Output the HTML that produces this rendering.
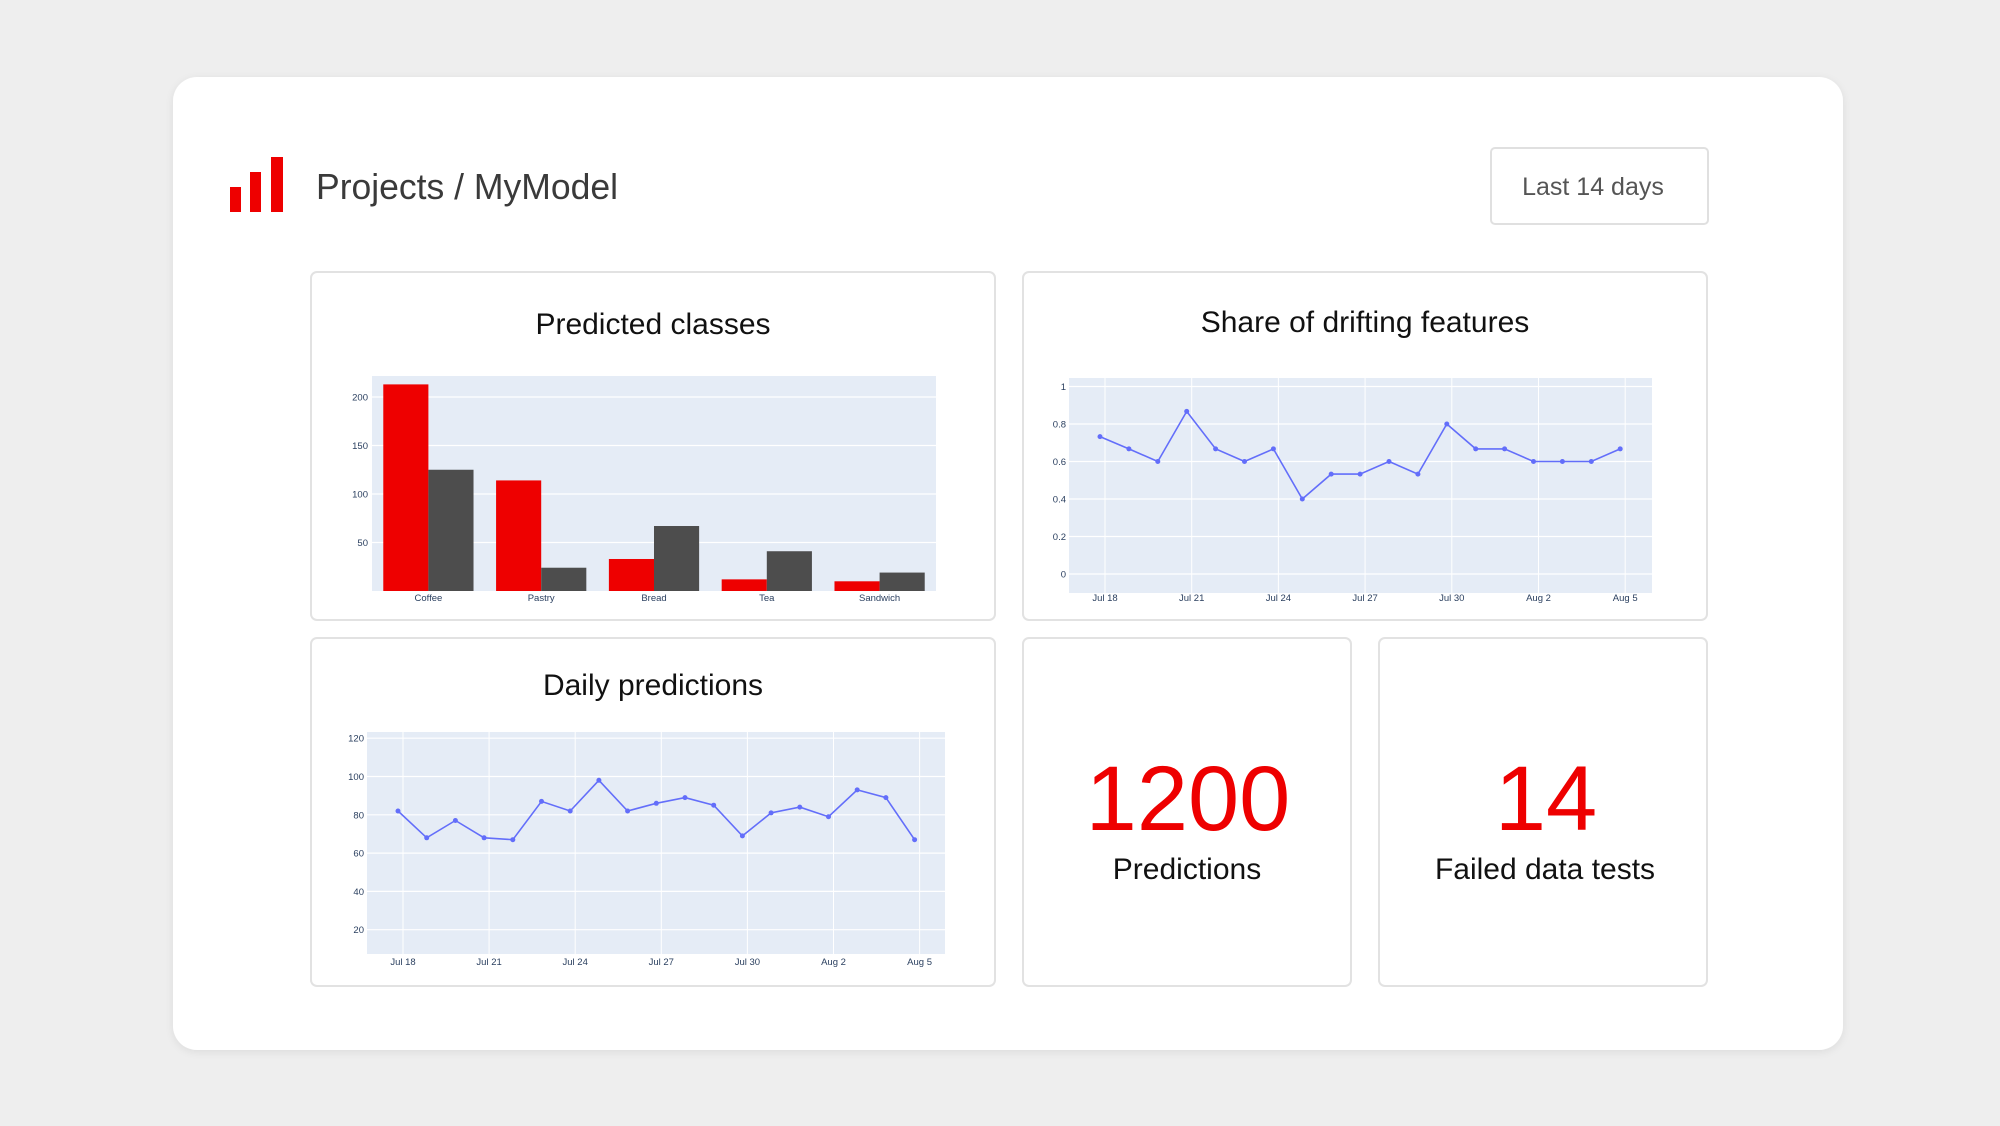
<!DOCTYPE html>
<html><head><meta charset="utf-8"><style>
html,body{margin:0;padding:0;background:#eeeeee;}
svg{display:block;font-family:"Liberation Sans",sans-serif;}
</style></head><body>
<svg id="s" width="2000" height="1126" viewBox="0 0 2000 1126" xmlns="http://www.w3.org/2000/svg">
<defs>
<filter id="sh" x="-5%" y="-5%" width="110%" height="110%"><feDropShadow dx="0" dy="2" stdDeviation="4" flood-color="#000" flood-opacity="0.08"/></filter>
</defs>
<rect x="0" y="0" width="2000" height="1126" fill="#eeeeee"/>
<rect x="173" y="77" width="1670" height="973" rx="24" fill="#ffffff" filter="url(#sh)"/>
<rect x="230" y="187" width="11" height="25" fill="#ee0000"/>
<rect x="250" y="172" width="11" height="40" fill="#ee0000"/>
<rect x="271" y="157" width="12" height="55" fill="#ee0000"/>
<text x="316" y="199" font-size="36" fill="#3a3a3a" textLength="302" lengthAdjust="spacingAndGlyphs">Projects / MyModel</text>
<rect x="1491" y="148" width="217" height="76" rx="4" fill="#fff" stroke="#e0e0e0" stroke-width="2"/>
<text x="1593" y="195" font-size="25" fill="#555" text-anchor="middle">Last 14 days</text>
<g fill="#fff" stroke="#e2e2e2" stroke-width="2">
<rect x="311" y="272" width="684" height="348" rx="6"/>
<rect x="1023" y="272" width="684" height="348" rx="6"/>
<rect x="311" y="638" width="684" height="348" rx="6"/>
<rect x="1023" y="638" width="328" height="348" rx="6"/>
<rect x="1379" y="638" width="328" height="348" rx="6"/>
</g>
<g font-size="30" fill="#111" text-anchor="middle">
<text x="653" y="334">Predicted classes</text>
<text x="1365" y="332">Share of drifting features</text>
<text x="653" y="695">Daily predictions</text>
<text x="1187" y="879">Predictions</text>
<text x="1545" y="879">Failed data tests</text>
</g>
<g font-size="92" fill="#ee0000" text-anchor="middle">
<text x="1188" y="830">1200</text>
<text x="1546" y="830">14</text>
</g>
<g id="c"></g>
</svg>
<script>
var g=document.getElementById('c'),h='';
function R(x,y,w,hh,f){h+='<rect x="'+x+'" y="'+y+'" width="'+w+'" height="'+hh+'" fill="'+f+'"/>';}
function L(x1,y1,x2,y2,c,w){h+='<line x1="'+x1+'" y1="'+y1+'" x2="'+x2+'" y2="'+y2+'" stroke="'+c+'" stroke-width="'+w+'"/>';}
function T(x,y,s,a){h+='<text x="'+x+'" y="'+y+'" font-size="9.5" fill="#2a3f5f" text-anchor="'+a+'">'+s+'</text>';}
var px=372,py=376,pw=564,ph=215,bot=591,sc=48.5/50;
R(px,py,pw,ph,'#e5ecf6');
[50,100,150,200].forEach(function(v){var y=bot-v*sc;L(px,y,px+pw,y,'#fff',1.2);T(368,y+3.5,v,'end');});
var cats=['Coffee','Pastry','Bread','Tea','Sandwich'],r=[213,114,33,12,10],k=[125,24,67,41,19],bw=pw/5;
cats.forEach(function(c,i){var b=px+i*bw,w=bw*0.4;
R(b+bw*0.1,bot-r[i]*sc,w,r[i]*sc,'#ee0000');R(b+bw*0.5,bot-k[i]*sc,w,k[i]*sc,'#4d4d4d');
T(b+bw/2,601,c,'middle');});
var ticks=['Jul 18','Jul 21','Jul 24','Jul 27','Jul 30','Aug 2','Aug 5'];
function line(px,py,pw,ph,t0,day,y0,yu,yt,lab,vals,xl,tly){
R(px,py,pw,ph,'#e5ecf6');
ticks.forEach(function(t,i){var x=t0+i*3*day;L(x,py,x,py+ph,'#fff',1);T(x,tly,t,'middle');});
yt.forEach(function(v,i){var y=y0-v*yu;L(px,y,px+pw,y,'#fff',1.2);T(xl,y+3.5,lab[i],'end');});
var p=vals.map(function(v,i){return (t0-5+i*day).toFixed(1)+','+(y0-v*yu).toFixed(1);});
h+='<polyline points="'+p.join(' ')+'" fill="none" stroke="#636efa" stroke-width="1.6"/>';
p.forEach(function(q){var a=q.split(',');h+='<circle cx="'+a[0]+'" cy="'+a[1]+'" r="2.5" fill="#636efa"/>';});}
line(1069,378,583,215,1105,28.9,574,187.5,[0,0.2,0.4,0.6,0.8,1],['0','0.2','0.4','0.6','0.8','1'],
[.733,.667,.6,.867,.667,.6,.667,.4,.533,.533,.6,.533,.8,.667,.667,.6,.6,.6,.667],1066,601);
line(367,732,578,222,403,28.7,968,38.3/20,[20,40,60,80,100,120],['20','40','60','80','100','120'],
[82,68,77,68,67,87,82,98,82,86,89,85,69,81,84,79,93,89,67],364,965);
g.innerHTML=h;
</script>
</body></html>
